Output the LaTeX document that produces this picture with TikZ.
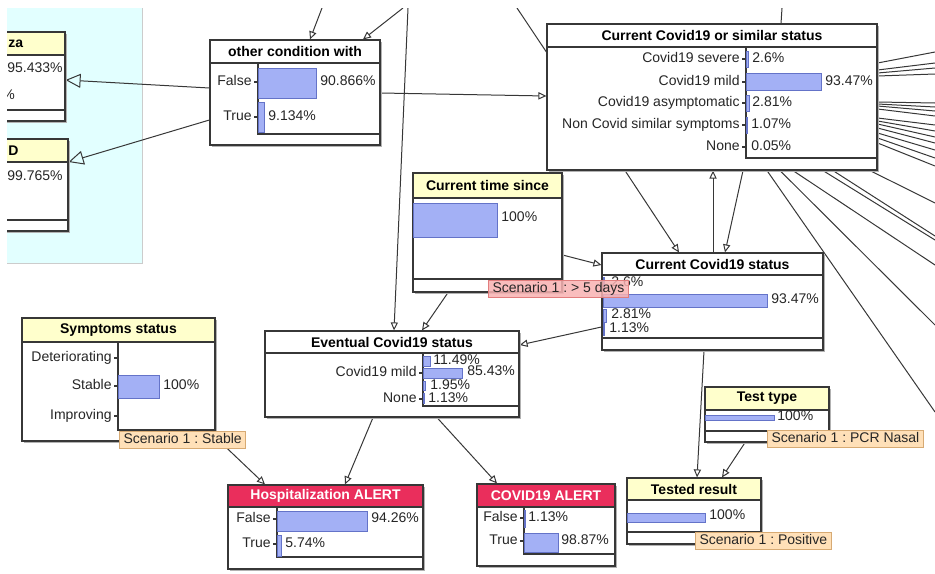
\documentclass[tikz,border=0pt]{standalone}
\usepackage{fontspec}
\setmainfont{Liberation Sans}
\usetikzlibrary{arrows.meta,fit,shadows}
\pgfdeclarelayer{bg}
\pgfsetlayers{bg,main}
\frenchspacing

\definecolor{linegray}{RGB}{55,55,55}
\definecolor{bgcyan}{RGB}{226,255,255}
\definecolor{bandyellow}{RGB}{255,255,204}
\definecolor{alertred}{RGB}{234,46,92}
\definecolor{barblue}{RGB}{163,176,245}
\definecolor{barline}{RGB}{100,115,200}
\definecolor{tagpink}{RGB}{248,178,178}
\definecolor{tagpinkline}{RGB}{225,125,125}
\definecolor{tagorange}{RGB}{255,224,184}
\definecolor{tagorangeline}{RGB}{215,170,115}

\tikzset{
  frame/.style={draw=linegray, line width=0.6pt},
  box/.style={frame, fill=white, inner sep=0pt,
    drop shadow={shadow xshift=1.2pt, shadow yshift=-1.2pt, fill=black!30, opacity=1}},
  ttl/.style={font=\fontsize{7}{8}\selectfont\bfseries, inner sep=0pt},
  lbl/.style={font=\fontsize{7}{8}\selectfont, text=black!85, anchor=east, inner sep=0pt,
    text height=5.2pt, text depth=1.4pt},
  pct/.style={lbl, anchor=west},
  bar/.style={fill=barblue, draw=barline, line width=0.5pt},
  link/.style={draw=linegray, line width=0.5pt},
  tip/.style={-{Triangle[open,length=4pt,width=3.6pt]}},
  bigtip/.style={-{Triangle[open,length=7.5pt,width=7pt]}},
  tag/.style={pct, anchor=north west, inner xsep=2pt, inner ysep=1pt, line width=0.5pt},
}

% box with a title band: [band style](name)(x1,y1)(x2,y2)(band bottom)
\def\netbox[#1](#2)(#3,#4)(#5,#6)(#7){%
  \node[box, fit={(#3,#4) (#5,#6)}] (#2) {};
  \fill[#1] (#3,#4) rectangle (#5,#7);
  \draw[frame] (#3,#7) -- (#5,#7);
  \draw[frame] (#3,#4) rectangle (#5,#6);}
% state label with its tick on the axis
\def\lbl(#1,#2)[#3]#4{\draw[frame] ({#1-4},#2) -- (#1,#2); \node[lbl] (#3) at ({#1-6},#2) {#4};}

\begin{document}
\begin{tikzpicture}[x=0.5pt,y=-0.5pt]
		\useasboundingbox (0,0) rectangle (935,573);
		%%%%% START %%%%%
		\begin{scope}
		\clip (7,8) rectangle (935,573);
		
		% left group, cut at the frame
		\netbox[fill=bandyellow](flu)(-20,32)(65,121)(55)
		\node[ttl, anchor=west] (flu-t) at (8,43.5) {za};
		\draw[frame] (-20,110) -- (65,110);
		\node[pct] (flu-p1) at (7,69) {95.433\%};
		\node[pct] (flu-p2) at (2,96) {\%};
		
		\netbox[fill=bandyellow](dd)(-20,139)(68,231)(162)
		\node[ttl, anchor=west] (dd-t) at (8,150.5) {D};
		\draw[frame] (-20,220) -- (68,220);
		\node[pct] (dd-p1) at (7,177) {99.765\%};
		
		% other condition
		\netbox[fill=white](oc)(210,40)(380,145)(63)
		\node[ttl] (oc-t) at (295,51.5) {other condition with};
		\draw[frame] (258,63) -- (258,134) -- (380,134);
		\draw[bar] (258,68) rectangle (316,98);
		\draw[bar] (258,102) rectangle (264,132);
		\lbl(258,82)[oc-l1]{False}
		\lbl(258,117)[oc-l2]{True}
		\node[pct] (oc-p1) at (320,82) {90.866\%};
		\node[pct] (oc-p2) at (268,117) {9.134\%};
		
		% current covid19 or similar
		\netbox[fill=white](sim)(547,24)(877,170)(47)
		\node[ttl] (sim-t) at (712,35.5) {Current Covid19 or similar status};
		\draw[frame] (746,47) -- (746,158) -- (877,158);
		\draw[bar] (746,51) rectangle (748,67);
		\draw[bar] (746,73) rectangle (821,90);
		\draw[bar] (746,95) rectangle (749,111);
		\draw[bar] (746,117) rectangle (747.5,133);
		\lbl(746,59)[sim-l1]{Covid19 severe}
		\lbl(746,82)[sim-l2]{Covid19 mild}
		\lbl(746,103)[sim-l3]{Covid19 asymptomatic}
		\lbl(746,125)[sim-l4]{Non Covid similar symptoms}
		\lbl(746,147)[sim-l5]{None}
		\node[pct] (sim-p1) at (752,59) {2.6\%};
		\node[pct] (sim-p2) at (825,82) {93.47\%};
		\node[pct] (sim-p3) at (752,103) {2.81\%};
		\node[pct] (sim-p4) at (751,125) {1.07\%};
		\node[pct] (sim-p5) at (751,147) {0.05\%};
		
		% time since
		\netbox[fill=bandyellow](ts)(413,173)(562,292)(198)
		\node[ttl] (ts-t) at (487.5,185.5) {Current time since};
		\draw[frame] (413,279) -- (562,279);
		\draw[bar] (413,203) rectangle (497,237);
		\node[pct] (ts-p1) at (501,218) {100\%};
		
		% current covid19 status
		\netbox[fill=white](cs)(602,253)(823,350)(275)
		\node[ttl] (cs-t) at (712.5,264) {Current Covid19 status};
		\draw[frame] (602,338) -- (823,338);
		\draw[bar] (603,277) rectangle (604.5,290);
		\draw[bar] (603,294) rectangle (767,307);
		\draw[bar] (603,309) rectangle (606,322);
		\draw[bar] (603,323) rectangle (604.5,335);
		\node[pct] (cs-p1) at (611,283) {2.6\%};
		\node[pct] (cs-p2) at (771,300) {93.47\%};
		\node[pct] (cs-p3) at (611,315) {2.81\%};
		\node[pct] (cs-p4) at (609,329) {1.13\%};
		\node[tag, fill=tagpink, draw=tagpinkline, fill opacity=0.85, text opacity=1] (ts-s) at (488,280) {Scenario 1 : > 5 days};
		
		% eventual status
		\netbox[fill=white](ev)(265,331)(519,417)(353)
		\node[ttl] (ev-t) at (392,342) {Eventual Covid19 status};
		\draw[frame] (423,353) -- (423,406) -- (519,406);
		\draw[bar] (423,356) rectangle (430,366);
		\draw[bar] (423,368) rectangle (462,378);
		\draw[bar] (423,381) rectangle (425,390);
		\draw[bar] (423,393) rectangle (424.5,403);
		\lbl(423,373)[ev-l2]{Covid19 mild}
		\lbl(423,399)[ev-l4]{None}
		\node[pct] (ev-p1) at (433,361) {11.49\%};
		\node[pct] (ev-p2) at (467,372) {85.43\%};
		\node[pct] (ev-p3) at (430,386) {1.95\%};
		\node[pct] (ev-p4) at (428,399) {1.13\%};
		
		% symptoms
		\netbox[fill=bandyellow](sy)(22,318)(215,441)(342)
		\node[ttl] (sy-t) at (118.5,330) {Symptoms status};
		\draw[frame] (118,342) -- (118,430) -- (215,430);
		\draw[bar] (118,375) rectangle (159,398);
		\lbl(118,358)[sy-l1]{Deteriorating}
		\lbl(118,386)[sy-l2]{Stable}
		\lbl(118,416)[sy-l3]{Improving}
		\node[pct] (sy-p1) at (163,386) {100\%};
		\node[tag, fill=tagorange, draw=tagorangeline] (sy-s) at (119,431) {Scenario 1 : Stable};
		
		% test type
		\netbox[fill=bandyellow](tt)(705,387)(829,442)(410)
		\node[ttl] (tt-t) at (767,398.5) {Test type};
		\draw[frame] (705,431) -- (829,431);
		\draw[bar] (705,415) rectangle (774,420);
		\node[pct] (tt-p1) at (777,417) {100\%};
		\node[tag, fill=tagorange, draw=tagorangeline] (tt-s) at (767,430) {Scenario 1 : PCR Nasal};
		
		% tested result
		\netbox[fill=bandyellow](tr)(627,478)(761,544)(500)
		\node[ttl] (tr-t) at (694,489) {Tested result};
		\draw[frame] (627,532) -- (761,532);
		\draw[bar] (627,513) rectangle (705,522);
		\node[pct] (tr-p1) at (709,516) {100\%};
		\node[tag, fill=tagorange, draw=tagorangeline] (tr-s) at (695,532) {Scenario 1 : Positive};
		
		% alerts
		\netbox[fill=alertred](ha)(228,485)(423,569)(507)
		\node[ttl, text=white] (ha-t) at (325.5,496) {Hospitalization ALERT};
		\draw[frame] (277,507) -- (277,557) -- (423,557);
		\draw[bar] (277,511) rectangle (367,531);
		\draw[bar] (277,535) rectangle (281,556);
		\lbl(277,519)[ha-l1]{False}
		\lbl(277,544)[ha-l2]{True}
		\node[pct] (ha-p1) at (371,519) {94.26\%};
		\node[pct] (ha-p2) at (285,544) {5.74\%};
		
		\netbox[fill=alertred](ca)(477,484)(615,566)(507)
		\node[ttl, text=white] (ca-t) at (546,495.5) {COVID19 ALERT};
		\draw[frame] (524,507) -- (524,554) -- (615,554);
		\draw[bar] (524,510) rectangle (525,527);
		\draw[bar] (524,533) rectangle (558,552);
		\lbl(524,518)[ca-l1]{False}
		\lbl(524,541)[ca-l2]{True}
		\node[pct] (ca-p1) at (528,518) {1.13\%};
		\node[pct] (ca-p2) at (561,541) {98.87\%};
		\end{scope}
		
		% links, under the boxes
		\begin{pgfonlayer}{bg}
		\begin{scope}
		\clip (7,8) rectangle (935,573);
		\draw[fill=bgcyan, draw=black!20] (0,0) rectangle (142,263);
		
		\coordinate (u1) at (322,8);
		\coordinate (u2) at (403,8);
		\coordinate (u3) at (408,8);
		\coordinate (u4) at (517,8);
		\coordinate (u5) at (782,8);
		\draw[link, tip] (u1) -- (oc.north -| 310,0);
		\draw[link, tip] (u2) -- (oc.north -| 363,0);
		\draw[link, tip] (u3) -- (ev.north -| 394,0);
		\draw[link] (u4) -- (sim.west |- 0,52);
		\draw[link] (u5) -- (sim.north -| 781,0);
		
		\draw[link, bigtip] (oc.west |- 0,88) -- (flu.east |- 0,80);
		\draw[link, bigtip] (oc.west |- 0,120) -- (dd.east |- 0,162);
		\draw[link, tip] (oc.east |- 0,93) -- (sim.west |- 0,96);
		
		\draw[link, tip] (sim.south -| 625,0) -- (cs.north -| 679,0);
		\draw[link, tip] (cs.north -| 713,0) -- (sim.south -| 713,0);
		\draw[link, tip] (sim.south -| 743,0) -- (cs.north -| 725,0);
		\draw[link, tip] (ts.east |- 0,255) -- (cs.west |- 0,265);
		\draw[link, tip] (ts.south -| 448,0) -- (ev.north -| 422,0);
		\draw[link, tip] (cs.west |- 0,327) -- (ev.east |- 0,345);
		\draw[link, tip] (sy.south -| 220,0) -- (ha.north -| 265,0);
		\draw[link, tip] (ev.south -| 373,0) -- (ha.north -| 345,0);
		\draw[link, tip] (ev.south -| 437,0) -- (ca.north -| 497,0);
		\draw[link, tip] (cs.south -| 704,0) -- (tr.north -| 697,0);
		\draw[link, tip] (tt.south -| 745,0) -- (tr.north -| 722,0);
		
		% links leaving to the right
		\foreach \a/\c [count=\i] in {63/52, 70/63, 73/68, 76/74, 102/103, 104/107, 106/111, 109/116,
		    118/125, 121/131, 124/137, 128/143, 133/150, 138/158, 143/166}{
		  \coordinate (r\i) at (935,\c);
		  \draw[link] (sim.east |- 0,\a) -- (r\i);
		}
		\foreach \a/\c [count=\i] in {870/203, 833/236, 823/240, 793/265, 780/325, 767/412}{
		  \coordinate (b\i) at (935,\c);
		  \draw[link] (sim.south -| \a,0) -- (b\i);
		}
		\end{scope}
		\end{pgfonlayer}
		%%%%% END %%%%%
	\end{tikzpicture}
\end{document}
